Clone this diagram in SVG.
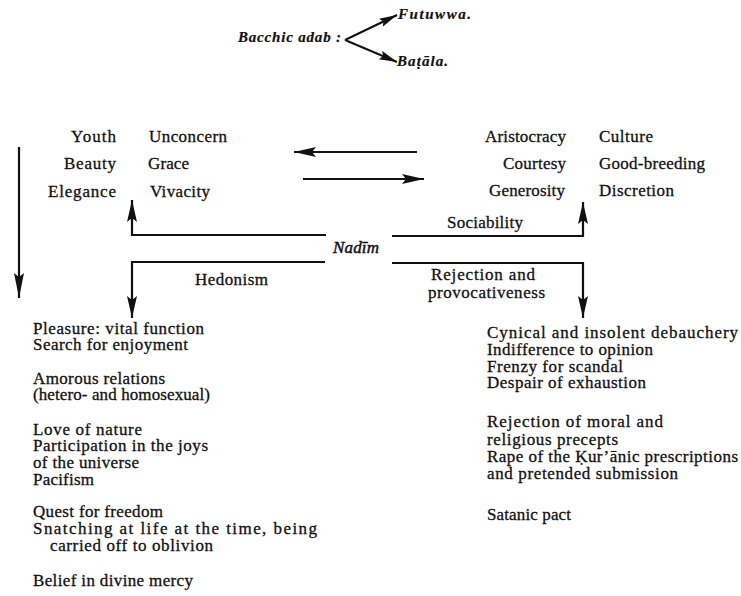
<svg xmlns="http://www.w3.org/2000/svg" width="741" height="596" viewBox="0 0 741 596">
  <style>
    text { font-family: "Liberation Serif", "Times New Roman", serif; font-size: 17px; fill: #111; stroke: #111; stroke-width: 0.3; }
    .it { font-style: italic; font-weight: bold; font-size: 15px; stroke-width: 0.2; }
    .nm { font-style: italic; font-size: 17px; stroke-width: 0.45; }
    .end { text-anchor: end; }
    .ln { fill: none; stroke: #111; stroke-width: 2.2; }
    .ln-s { fill: none; stroke: #111; stroke-width: 2; }
  </style>
  <defs>
    <marker id="head" markerUnits="userSpaceOnUse" markerWidth="24" markerHeight="12" refX="22" refY="5" orient="auto">
      <path d="M0,0 L22,5 L0,10 L4,5 z" fill="#111"/>
    </marker>
    <marker id="head-long" markerUnits="userSpaceOnUse" markerWidth="28" markerHeight="12" refX="25" refY="5" orient="auto">
      <path d="M0,0 L25,5 L0,10 L4,5 z" fill="#111"/>
    </marker>
    <marker id="head-sm" markerUnits="userSpaceOnUse" markerWidth="20" markerHeight="10" refX="18" refY="4.5" orient="auto">
      <path d="M0,0 L18,4.5 L0,9 L3,4.5 z" fill="#111"/>
    </marker>
  </defs>

  <!-- heading: the two forms of bacchic adab -->
  <g id="adab">
    <text class="it" x="238" y="42" textLength="103" lengthAdjust="spacing">Bacchic adab :</text>
  </g>
  <g id="futuwwa">
    <text class="it" x="398" y="19" textLength="73" lengthAdjust="spacing">Futuwwa.</text>
  </g>
  <g id="batala">
    <text class="it" x="397" y="66" textLength="51" lengthAdjust="spacing">Baṭāla.</text>
  </g>

  <!-- qualities on the left -->
  <g id="qualities-left">
    <text class="end" x="116" y="142" textLength="45" lengthAdjust="spacing">Youth</text>
    <text class="end" x="116" y="169" textLength="52" lengthAdjust="spacing">Beauty</text>
    <text class="end" x="116" y="197" textLength="68" lengthAdjust="spacing">Elegance</text>
    <text x="149" y="142" textLength="78" lengthAdjust="spacing">Unconcern</text>
    <text x="148" y="169" textLength="41" lengthAdjust="spacing">Grace</text>
    <text x="150" y="197" textLength="60" lengthAdjust="spacing">Vivacity</text>
  </g>

  <!-- qualities on the right -->
  <g id="qualities-right">
    <text class="end" x="566" y="142" textLength="81" lengthAdjust="spacing">Aristocracy</text>
    <text class="end" x="566" y="169" textLength="63" lengthAdjust="spacing">Courtesy</text>
    <text class="end" x="565" y="196" textLength="76" lengthAdjust="spacing">Generosity</text>
    <text x="599" y="142" textLength="54" lengthAdjust="spacing">Culture</text>
    <text x="599" y="169" textLength="106" lengthAdjust="spacing">Good-breeding</text>
    <text x="599" y="196" textLength="75" lengthAdjust="spacing">Discretion</text>
  </g>

  <!-- centre -->
  <g id="nadim">
    <text class="nm" x="333" y="253" textLength="46" lengthAdjust="spacing">Nadīm</text>
  </g>

  <!-- branch labels -->
  <g id="hedonism">
    <text x="195" y="285" textLength="73" lengthAdjust="spacing">Hedonism</text>
  </g>
  <g id="sociability">
    <text x="447" y="228" textLength="76" lengthAdjust="spacing">Sociability</text>
  </g>
  <g id="rejection">
    <text x="431" y="280" textLength="104" lengthAdjust="spacing">Rejection and</text>
    <text x="428" y="298" textLength="117" lengthAdjust="spacing">provocativeness</text>
  </g>

  <!-- hedonist traits -->
  <g id="hedonist-traits">
    <text x="33" y="334" textLength="171" lengthAdjust="spacing">Pleasure: vital function</text>
    <text x="33" y="350" textLength="155" lengthAdjust="spacing">Search for enjoyment</text>
    <text x="33" y="384" textLength="132" lengthAdjust="spacing">Amorous relations</text>
    <text x="33" y="400" textLength="177" lengthAdjust="spacing">(hetero- and homosexual)</text>
    <text x="33" y="435" textLength="109" lengthAdjust="spacing">Love of nature</text>
    <text x="33" y="451" textLength="175" lengthAdjust="spacing">Participation in the joys</text>
    <text x="33" y="468" textLength="106" lengthAdjust="spacing">of the universe</text>
    <text x="33" y="485" textLength="61" lengthAdjust="spacing">Pacifism</text>
    <text x="33" y="517" textLength="130" lengthAdjust="spacing">Quest for freedom</text>
    <text x="33" y="534" textLength="284" lengthAdjust="spacing">Snatching at life at the time, being</text>
    <text x="50" y="551" textLength="163" lengthAdjust="spacing">carried off to oblivion</text>
    <text x="33" y="586" textLength="160" lengthAdjust="spacing">Belief in divine mercy</text>
  </g>

  <!-- provocative traits -->
  <g id="provocative-traits">
    <text x="487" y="338" textLength="251" lengthAdjust="spacing">Cynical and insolent debauchery</text>
    <text x="487" y="355" textLength="166" lengthAdjust="spacing">Indifference to opinion</text>
    <text x="487" y="372" textLength="136" lengthAdjust="spacing">Frenzy for scandal</text>
    <text x="487" y="388" textLength="159" lengthAdjust="spacing">Despair of exhaustion</text>
    <text x="487" y="427" textLength="176" lengthAdjust="spacing">Rejection of moral and</text>
    <text x="487" y="445" textLength="131" lengthAdjust="spacing">religious precepts</text>
    <text x="487" y="462" textLength="251" lengthAdjust="spacing">Rape of the Ḳur’ānic prescriptions</text>
    <text x="487" y="479" textLength="191" lengthAdjust="spacing">and pretended submission</text>
    <text x="487" y="520" textLength="84" lengthAdjust="spacing">Satanic pact</text>
  </g>

  <!-- connectors -->
  <g id="connectors">
    <path class="ln-s" d="M345,40 L397,15" marker-end="url(#head-sm)"/>
    <path class="ln-s" d="M345,40 L397,62" marker-end="url(#head-sm)"/>
    <path class="ln" d="M19,147 L19,298" marker-end="url(#head-long)"/>
    <path class="ln" d="M417,152 L294,152" marker-end="url(#head)"/>
    <path class="ln" d="M303,179 L424,179" marker-end="url(#head)"/>
    <path class="ln" d="M326,235 L132,235 L132,200" marker-end="url(#head)"/>
    <path class="ln" d="M325,262 L132,262 L132,318" marker-end="url(#head)"/>
    <path class="ln" d="M392,236 L583,236 L583,202" marker-end="url(#head)"/>
    <path class="ln" d="M392,263 L583,263 L583,318" marker-end="url(#head)"/>
  </g>
</svg>
